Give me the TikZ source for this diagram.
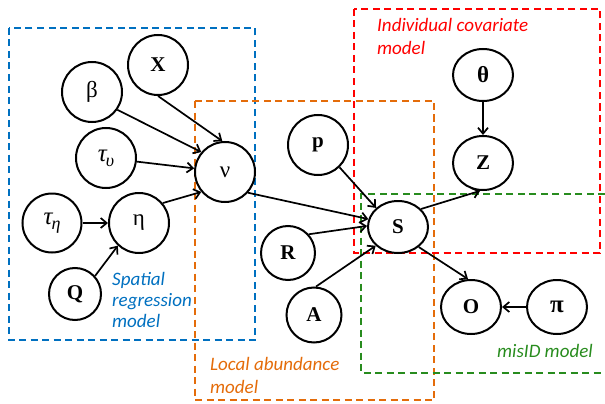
\documentclass[tikz,border=0pt]{standalone}
\usepackage{fontspec}
\setmainfont{Liberation Serif}
\newfontfamily\lblfont{Carlito}
\usetikzlibrary{arrows.meta,shapes.geometric}
\definecolor{cblue}{RGB}{0,112,192}
\definecolor{corange}{RGB}{228,108,10}
\definecolor{cred}{RGB}{255,0,0}
\definecolor{cgreen}{RGB}{40,140,30}
\begin{document}
\begin{tikzpicture}[x=1pt,y=-1pt,
  var/.style={circle,draw=black,line width=2pt,fill=white,minimum size=60pt,inner sep=0pt,font=\fontsize{21}{22}\selectfont\bfseries},
  evar/.style={ellipse,draw=black,line width=2pt,fill=white,minimum width=60pt,minimum height=53pt,inner sep=0pt,font=\fontsize{21}{22}\selectfont\bfseries},
  greek/.style={font=\fontsize{23}{24}\selectfont\mdseries},
  tau/.style={font=\fontsize{25}{25}\selectfont\mdseries\itshape},
  edge/.style={line width=1.7pt,-{Straight Barb[length=6pt,width=10pt]}},
  region/.style={dash pattern=on 7pt off 4.5pt,line width=2.2pt},
  regionlabel/.style={font=\lblfont\itshape\fontsize{19}{21}\selectfont,align=left,anchor=base west,inner sep=0pt}
]
\useasboundingbox (0,0) rectangle (605,404);
% regions
\draw[region,cblue] (9,28) rectangle (255,340);
\draw[region,corange] (195,101) rectangle (434,400);
\draw[region,cred] (354,9) rectangle (600,253);
\draw[region,cgreen] (605,194) -- (361,194) -- (361,373) -- (605,373);
% region labels (anchor = baseline of last line)
\node[regionlabel,text=cblue] (lsp) at (112,327) {Spatial\\regression\\model};
\node[regionlabel,text=corange,font=\lblfont\itshape\fontsize{19}{23}\selectfont] (lla) at (210,393) {Local abundance\\model};
\node[regionlabel,text=cred,font=\lblfont\itshape\fontsize{19}{23}\selectfont] (lic) at (377,55) {Individual covariate\\model};
\node[regionlabel,text=cgreen] (lmi) at (497,357) {misID model};
% nodes
\node[var] (X) at (158,65) {X};
\node[var,greek] (beta) at (92,92) {β};
\node[var,tau] (tauu) at (106,158) {τ\kern-1pt\raisebox{-5pt}{\fontsize{18}{18}\selectfont υ}};
\node[var,greek] (nu) at (225,172) {ν};
\node[var,tau,minimum size=59pt] (taue) at (52,223) {τ\kern-1pt\raisebox{-5pt}{\fontsize{18}{18}\selectfont η}};
\node[var,greek] (eta) at (139,223) {η};
\node[var,minimum size=52pt] (Q) at (75,294) {Q};
\node[var] (p) at (318,145) {p};
\node[var,minimum size=54pt] (R) at (288,253) {R};
\node[var,minimum size=55pt] (A) at (314,315) {A};
\node[evar,minimum height=52pt,font=\fontsize{23}{24}\selectfont\bfseries] (theta) at (483,75) {θ};
\node[evar,minimum height=54pt] (Z) at (483,163) {Z};
\node[evar,minimum height=52pt] (S) at (398,227) {S};
\node[evar,minimum height=54pt] (O) at (471,307) {O};
\node[evar,minimum height=54pt,font=\fontsize{25}{25}\selectfont\bfseries] (pi) at (557,307) {π};
% edges
\draw[edge] (X.-90) -- (nu.95);
\draw[edge] (beta.-35) -- (nu.140);
\draw[edge] (tauu) -- (nu);
\draw[edge] (eta.40) -- (nu.-140);
\draw[edge] (taue.east) -- (eta.west);
\draw[edge] (Q.42) -- (eta.-133);
\draw[edge] (nu.-42) -- (S.165);
\draw[edge] (p.-46) -- (S.139);
\draw[edge] (R.42) -- (S.178);
\draw[edge] (A.86) -- (S.-140);
\draw[edge] (theta.south) -- (Z.north);
\draw[edge] (S.38) -- (Z.-96);
\draw[edge] (S.-44) -- (O.96);
\draw[edge] (pi.west) -- (O.east);
\end{tikzpicture}
\end{document}
